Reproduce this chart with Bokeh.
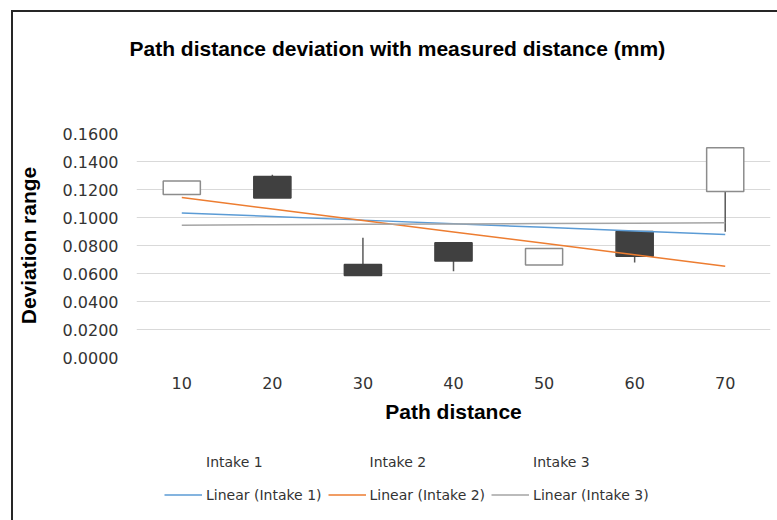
import numpy as np
from bokeh.plotting import figure
from bokeh.layouts import column
from bokeh.models import (ColumnDataSource, FactorRange, Range1d, FixedTicker,
                          NumeralTickFormatter, Legend, LegendItem)
from bokeh.embed import file_html
from bokeh.resources import INLINE

# Path distances (mm) and deviation measured at each intake
categories = ["10", "20", "30", "40", "50", "60", "70"]
intake1 = [0.1164, 0.1293, 0.0664, 0.0820, 0.0661, 0.0900, 0.1186]
intake2 = [0.1200, 0.1305, 0.0855, 0.0616, 0.0727, 0.0678, 0.0898]
intake3 = [0.1260, 0.1140, 0.0585, 0.0690, 0.0779, 0.0723, 0.1499]
y_ticks = [0.0, 0.02, 0.04, 0.06, 0.08, 0.10, 0.12, 0.14, 0.16]
series_names = ["Intake 1", "Intake 2", "Intake 3"]
trend_colors = ["#5b9bd5", "#ed7d31", "#a5a5a5"]

W = 764
LEFT, RIGHT = 122, 7          # space beside the plot frame
FRAME_W = W - LEFT - RIGHT
TEXT = "#333333"


def blank_panel(height, **kw):
    """A figure with no axes whose frame lines up with the chart frame (pixel ranges)."""
    f = figure(width=W, height=height, x_range=Range1d(0, FRAME_W), y_range=Range1d(0, height),
               x_axis_type=None, y_axis_type=None, output_backend="svg",
               toolbar_location=None, min_border=0,
               min_border_left=LEFT, min_border_right=RIGHT, **kw)
    f.grid.visible = False
    f.outline_line_color = None
    f.background_fill_color = "white"
    f.border_fill_color = "white"
    return f


# ---- heading ----
head = blank_panel(72, min_border_top=52)
head.title.text = "Path distance deviation with measured distance (mm)"
head.title.align = "left"
head.title.offset = -7
head.title.standoff = 10
head.title.text_font = "Liberation Sans"
head.title.text_font_style = "bold"
head.title.text_font_size = "21px"
head.title.text_color = "black"

# ---- chart ----
series = [intake1, intake2, intake3]
high = [max(v) for v in zip(*series)]
low = [min(v) for v in zip(*series)]
up = [c >= o for o, c in zip(intake1, intake3)]

src = ColumnDataSource(dict(
    x=categories, high=high, low=low,
    bottom=[min(o, c) for o, c in zip(intake1, intake3)],
    top=[max(o, c) for o, c in zip(intake1, intake3)],
    fill=["white" if u else "#404040" for u in up],
    line=["#8c8c8c" if u else "#404040" for u in up],
))

p = figure(width=W, height=350, x_range=FactorRange(*categories), y_range=(0, 0.16),
           output_backend="svg", toolbar_location=None,
           min_border_left=LEFT, min_border_right=RIGHT, min_border_top=49, min_border_bottom=77)
p.outline_line_color = None
p.background_fill_color = "white"
p.border_fill_color = "white"

# high-low lines, then up/down bars from Intake 1 to Intake 3
p.segment(x0="x", y0="low", x1="x", y1="high", source=src, line_color="#595959", line_width=1.5)
p.vbar(x="x", bottom="bottom", top="top", width=0.41, source=src,
       fill_color="fill", line_color="line", line_width=1.5)

# linear trend line for each intake
xi = np.arange(1, len(categories) + 1)
for vals, col in zip(series, trend_colors):
    k, b = np.polyfit(xi, vals, 1)
    p.line(x=categories, y=list(k * xi + b), line_color=col, line_width=1.5)

p.xgrid.grid_line_color = None
p.ygrid.grid_line_color = "#d9d9d9"
p.ygrid.grid_line_width = 1
p.yaxis.ticker = FixedTicker(ticks=y_ticks)
p.yaxis.formatter = NumeralTickFormatter(format="0.0000")
for ax in (p.xaxis[0], p.yaxis[0]):
    ax.axis_line_color = None
    ax.major_tick_line_color = None
    ax.minor_tick_line_color = None
    ax.major_label_text_font = "DejaVu Sans"
    ax.major_label_text_font_size = "16px"
    ax.major_label_text_color = TEXT
    ax.axis_label_text_font = "Liberation Sans"
    ax.axis_label_text_font_style = "bold"
    ax.axis_label_text_font_size = "21px"
    ax.axis_label_text_color = "black"
p.yaxis.major_label_standoff = 12
p.yaxis.axis_label = "Deviation range"
p.yaxis.axis_label_standoff = 20
p.xaxis.major_label_standoff = 13
p.xaxis.axis_label = "Path distance"
p.xaxis.axis_label_standoff = 8

# ---- key ----
key = blank_panel(86)
# stand-in renderers kept outside the visible ranges; they only give the key its swatches
series_r = [key.line(x=[-20, -10], y=[-20, -20], line_alpha=0) for _ in series_names]
trend_r = [key.line(x=[-20, -10], y=[-20, -20], line_color=c, line_width=1.5) for c in trend_colors]
items = [LegendItem(label=n, renderers=[r]) for n, r in zip(series_names, series_r)]
items += [LegendItem(label=f"Linear ({n})", renderers=[r]) for n, r in zip(series_names, trend_r)]
legend = Legend(items=items, orientation="horizontal", nrows=2, location=(28, 12),
                glyph_width=38, glyph_height=27, label_height=27, label_standoff=4,
                spacing=6, padding=0, margin=0,
                label_text_font="DejaVu Sans", label_text_font_size="14px",
                label_text_color=TEXT,
                border_line_alpha=0, background_fill_alpha=0)
key.add_layout(legend, "center")

page = column(head, p, key, spacing=0)
page.margin = (10, 0, 0, 11)
page.styles = {"border-left": "2px solid #262626", "border-top": "2px solid #262626"}

open("out.html", "w").write(file_html(page, INLINE))
